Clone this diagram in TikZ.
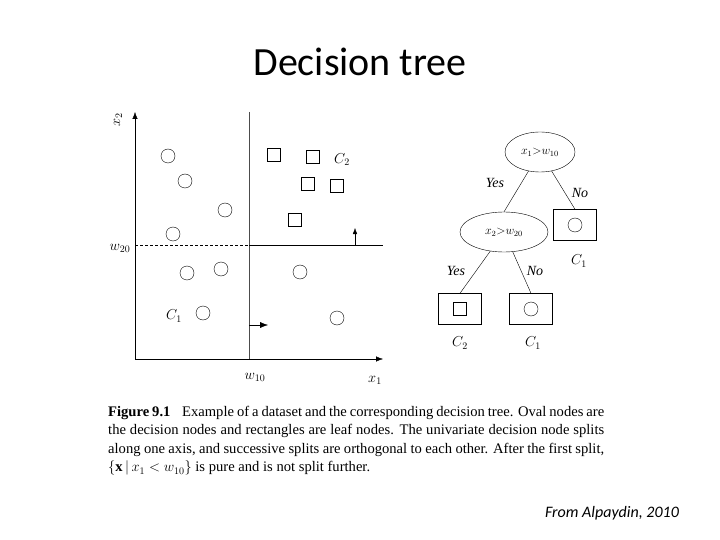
\documentclass[tikz,border=0pt]{standalone}
\usepackage{fontspec}
\setmainfont{Liberation Serif}
\newfontfamily\titlefont{Carlito}
\usetikzlibrary{shapes.geometric,arrows.meta}
\tikzset{
  pt/.style={circle,draw,inner sep=0pt,minimum size=14pt},
  sq/.style={rectangle,draw,inner sep=0pt,minimum size=13pt},
  dnode/.style={ellipse,draw,minimum width=70pt,minimum height=40pt,inner sep=0pt,font=\itshape\fontsize{12}{12}\selectfont},
  leaf/.style={rectangle,draw,minimum width=43pt,minimum height=31pt,inner sep=0pt},
  lbl/.style={font=\itshape\fontsize{14}{14}\selectfont}
}
\begin{document}
\begin{tikzpicture}[x=1pt,y=-1pt]
            \useasboundingbox (0,0) rectangle (720,540);
            \node (title) at (360,62) {\titlefont\fontsize{40}{40}\selectfont Decision tree};
            % axes
            \coordinate (o) at (135,359);
            \draw [-{Latex[length=7pt]}] (o) -- (383,359) coordinate (xend);
            \draw [-{Latex[length=7pt]}] (o) -- (135,112) coordinate (yend);
            \node [lbl,rotate=90] (xtwo) at (118,120) {$x_2$};
            \node [lbl] (xone) at (375,380) {$x_1$};
            \node [lbl] (wten) at (255,377) {$w_{10}$};
            \node [lbl] (wtwenty) at (120,248) {$w_{20}$};
            \draw [thick,gray!60!black] (249,112) -- (249,359);
            \draw [densely dashed] (135,245) -- (249,245);
            \draw (249,245) -- (383,245);
            \draw [-{Latex[length=6pt]}] (355,245) -- (355,228);
            \draw [-{Latex[length=8pt]}] (249,325) -- (268,325);
            % data
            \foreach \x/\y in {168/156,185/181,225/210,173/234,187/273,221/269,203/313,300/272,337/318}
              \node [pt] at (\x,\y) {};
            \foreach \x/\y in {274/155,313/157,308/184,337/186,295/220}
              \node [sq] at (\x,\y) {};
            \node [lbl] (cone) at (174,316) {$C_1$};
            \node [lbl] (ctwo) at (342,160) {$C_2$};
            % tree
            \node [dnode] (root) at (540,152) {$x_1{>}w_{10}$};
            \node [dnode,minimum width=88pt] (inner) at (504,232) {$x_2{>}w_{20}$};
            \node [leaf] (leafr) at (575,225) {};
            \node [pt] at (leafr) {};
            \node [leaf] (leafa) at (460,309) {};
            \node [sq] at (leafa) {};
            \node [leaf] (leafb) at (531,309) {};
            \node [pt] at (leafb) {};
            \draw (root) -- (inner.north);
            \draw (root) -- (leafr.north);
            \draw (inner) -- (leafa.north);
            \draw (inner) -- (leafb.north);
            \node [lbl] (yesa) at (495,183) {Yes};
            \node [lbl] (noa) at (580,193) {No};
            \node [lbl] (yesb) at (456,271) {Yes};
            \node [lbl] (nob) at (535,271) {No};
            \node [lbl] (cr) at (579,261) {$C_1$};
            \node [lbl] (ca) at (460,343) {$C_2$};
            \node [lbl] (cb) at (533,343) {$C_1$};
            % caption
            \node [anchor=north west,text width=496pt,align=justify,inner sep=0pt,font=\fontsize{14.6}{18.5}\selectfont] (cap) at (108,406)
              {\textbf{Figure 9.1}\hspace{0.6em} Example of a dataset and the corresponding decision tree. Oval nodes are the decision nodes and rectangles are leaf nodes. The univariate decision node splits along one axis, and successive splits are orthogonal to each other. After the first split, $\{\mathbf{x}\,|\,x_1<w_{10}\}$ is pure and is not split further.};
            \node (src) at (612,513) {\titlefont\itshape\fontsize{16}{16}\selectfont From Alpaydin, 2010};
\end{tikzpicture}
\end{document}
